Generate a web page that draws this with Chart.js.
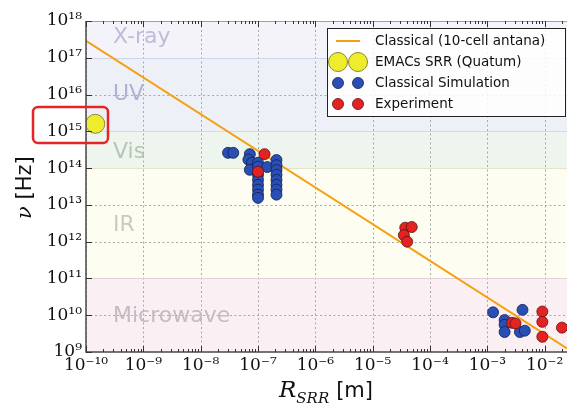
<!DOCTYPE html>
<html>
<head>
<meta charset="utf-8">
<script src="https://cdn.jsdelivr.net/npm/chart.js@4/dist/chart.umd.min.js"></script>
<style>
  html, body { margin: 0; padding: 0; background: #fff; }
</style>
</head>
<body>
<canvas id="chart" width="567" height="405"></canvas>
<script>
// tick decades and their labels
var xTickValues = [1e-10, 1e-9, 1e-8, 1e-7, 1e-6, 1e-5, 1e-4, 1e-3, 1e-2];
var xTickLabels = ['10⁻¹⁰', '10⁻⁹', '10⁻⁸', '10⁻⁷', '10⁻⁶', '10⁻⁵', '10⁻⁴', '10⁻³', '10⁻²'];
var yTickValues = [1e9, 1e10, 1e11, 1e12, 1e13, 1e14, 1e15, 1e16, 1e17, 1e18];
var yTickLabels = ['10⁹', '10¹⁰', '10¹¹', '10¹²', '10¹³', '10¹⁴', '10¹⁵', '10¹⁶', '10¹⁷', '10¹⁸'];

// spectral bands (Hz)
var bandNames = ['X-ray', 'UV', 'Vis', 'IR', 'Microwave'];
var bandLow   = [1e17, 1e15, 1e14, 1e11, 1e9];
var bandHigh  = [1e18, 1e17, 1e15, 1e14, 1e11];

// Classical (10-cell antenna)
var classR  = [1e-10, 2.45e-2];
var classNu = [2.9e17, 1.25e9];

// EMACs SRR (Quantum)
var quantR  = [1.45e-10];
var quantNu = [1.6e15];

// Classical simulation
var simR  = [3.0e-8, 3.7e-8, 7.2e-8, 6.8e-8, 7.9e-8, 7.2e-8,
             1.0e-7, 1.0e-7, 1.0e-7, 1.0e-7, 1.0e-7, 1.0e-7, 1.0e-7, 1.0e-7,
             1.45e-7,
             2.1e-7, 2.1e-7, 2.1e-7, 2.1e-7, 2.1e-7, 2.1e-7, 2.1e-7, 2.1e-7,
             1.26e-3, 4.1e-3, 2.0e-3, 2.0e-3, 2.0e-3, 3.7e-3, 4.5e-3];
var simNu = [2.6e14, 2.6e14, 2.4e14, 1.7e14, 1.4e14, 9e13,
             1.4e14, 1.1e14, 6.6e13, 4.8e13, 3.5e13, 2.6e13, 1.9e13, 1.55e13,
             1.07e14,
             1.66e14, 1.2e14, 8.9e13, 6.6e13, 4.8e13, 3.5e13, 2.6e13, 1.9e13,
             1.2e10, 1.4e10, 7.4e9, 5.5e9, 3.5e9, 3.5e9, 3.8e9];

// Experiment
var expR  = [1.3e-7, 1.0e-7, 3.7e-5, 4.8e-5, 3.5e-5, 4.0e-5,
             2.7e-3, 3.1e-3, 9.1e-3, 9.1e-3, 9.1e-3, 2.0e-2];
var expNu = [2.4e14, 8e13, 2.4e12, 2.5e12, 1.5e12, 1.0e12,
             6.2e9, 6.0e9, 1.26e10, 6.6e9, 2.6e9, 4.6e9];

function pts(xs, ys) {
  return xs.map(function(x, i) { return {x: x, y: ys[i]}; });
}

var bandFill  = ['#f5f3fa', '#eef0f8', '#eef5ee', '#fefdf1', '#faf0f4'];
var bandEdge  = ['#d8d8ec', '#ccd3ea', '#cfe0cf', '#e4e4cc', '#e4d0da'];
var bandText  = ['#bebcd6', '#acb4d4', '#b4c6b4', '#c8ccbe', '#c8bac2'];
var bandTextY = [37, 94, 152, 225, 316];

var bandsPlugin = {
  id: 'bands',
  beforeDraw: function(chart) {
    var ctx = chart.ctx, a = chart.chartArea, ys = chart.scales.y, xs = chart.scales.x;
    ctx.save();
    ctx.beginPath();
    ctx.rect(a.left, a.top, a.right - a.left, a.bottom - a.top);
    ctx.clip();
    for (var i = 0; i < bandNames.length; i++) {
      var top = ys.getPixelForValue(bandHigh[i]);
      var bot = ys.getPixelForValue(bandLow[i]);
      ctx.fillStyle = bandFill[i];
      ctx.fillRect(a.left, top, a.right - a.left, bot - top);
    }
    // dotted grid at the decades
    ctx.strokeStyle = '#a9a9a9';
    ctx.lineWidth = 1;
    ctx.setLineDash([2, 2.5]);
    ctx.beginPath();
    xTickValues.forEach(function(v) {
      var px = Math.round(xs.getPixelForValue(v)) + 0.5;
      ctx.moveTo(px, a.top); ctx.lineTo(px, a.bottom);
    });
    yTickValues.forEach(function(v) {
      var py = Math.round(ys.getPixelForValue(v)) + 0.5;
      ctx.moveTo(a.left, py); ctx.lineTo(a.right, py);
    });
    ctx.stroke();
    ctx.setLineDash([]);
    // band edges
    for (var k = 0; k < bandNames.length; k++) {
      var t = Math.round(ys.getPixelForValue(bandHigh[k])) + 0.5;
      ctx.strokeStyle = bandEdge[k];
      ctx.beginPath();
      ctx.moveTo(a.left, t); ctx.lineTo(a.right, t);
      ctx.stroke();
    }
    ctx.font = '22px "DejaVu Sans"';
    ctx.textBaseline = 'middle';
    for (var j = 0; j < bandNames.length; j++) {
      ctx.fillStyle = bandText[j];
      ctx.fillText(bandNames[j], 113, bandTextY[j]);
    }
    ctx.restore();
  },
  afterDraw: function(chart) {
    var ctx = chart.ctx, a = chart.chartArea, xs = chart.scales.x, ys = chart.scales.y;
    ctx.save();
    // frame
    ctx.lineWidth = 1;
    ctx.strokeStyle = '#a0a0a0';
    ctx.beginPath(); ctx.moveTo(a.left, a.top + 0.5); ctx.lineTo(a.right, a.top + 0.5); ctx.stroke();
    ctx.lineWidth = 1.5;
    ctx.strokeStyle = '#4a4a4a';
    ctx.beginPath();
    ctx.moveTo(a.left, a.top); ctx.lineTo(a.left, a.bottom); ctx.lineTo(a.right, a.bottom);
    ctx.stroke();
    // tick marks inside the axes
    ctx.lineWidth = 1;
    ctx.strokeStyle = '#333';
    ctx.beginPath();
    xTickValues.forEach(function(v) {
      var px = Math.round(xs.getPixelForValue(v)) + 0.5;
      ctx.moveTo(px, a.bottom); ctx.lineTo(px, a.bottom - 6);
      ctx.moveTo(px, a.top); ctx.lineTo(px, a.top + 6);
      for (var m = 2; m < 10; m++) {
        var mv = v * m;
        if (mv > xs.max) break;
        var mp = Math.round(xs.getPixelForValue(mv)) + 0.5;
        ctx.moveTo(mp, a.bottom); ctx.lineTo(mp, a.bottom - 3);
        ctx.moveTo(mp, a.top); ctx.lineTo(mp, a.top + 3);
      }
    });
    yTickValues.forEach(function(v) {
      var py = Math.round(ys.getPixelForValue(v)) + 0.5;
      ctx.moveTo(a.left, py); ctx.lineTo(a.left + 6, py);
    });
    ctx.stroke();

    // red highlight box
    ctx.strokeStyle = '#e52525';
    ctx.lineWidth = 2.5;
    ctx.beginPath();
    ctx.roundRect(33, 107, 75, 36, 5);
    ctx.stroke();

    // axis titles
    ctx.fillStyle = '#111';
    ctx.textBaseline = 'alphabetic';
    ctx.textAlign = 'left';
    var x = 279;
    ctx.font = 'italic 23px "DejaVu Serif"';
    ctx.fillText('R', x, 397);
    x += ctx.measureText('R').width;
    ctx.font = 'italic 15px "DejaVu Serif"';
    ctx.fillText('SRR', x, 403);
    x += ctx.measureText('SRR').width + 7;
    ctx.font = '21px "DejaVu Sans"';
    ctx.fillText('[m]', x, 397);

    ctx.save();
    ctx.translate(31, 219);
    ctx.rotate(-Math.PI / 2);
    ctx.font = 'italic 21px "DejaVu Serif"';
    ctx.fillText('ν', 0, 0);
    var w1 = ctx.measureText('ν').width;
    ctx.font = '21px "DejaVu Sans"';
    ctx.fillText(' [Hz]', w1, 0);
    ctx.restore();

    // legend
    var lx = 327, ly = 28, lw = 239, lh = 89;
    ctx.fillStyle = 'rgba(255,255,255,0.85)';
    ctx.fillRect(lx, ly, lw, lh);
    ctx.strokeStyle = '#222';
    ctx.lineWidth = 1;
    ctx.strokeRect(lx + 0.5, ly + 0.5, lw - 1, lh - 1);
    var ds = chart.data.datasets;
    var rows = [
      {d: ds[3], y: 41, line: true},
      {d: ds[2], y: 62},
      {d: ds[1], y: 83},
      {d: ds[0], y: 104}
    ];
    rows.forEach(function(r) {
      if (r.line) {
        ctx.strokeStyle = r.d.borderColor;
        ctx.lineWidth = 2;
        ctx.beginPath(); ctx.moveTo(336, r.y); ctx.lineTo(360, r.y); ctx.stroke();
      } else {
        [338, 358].forEach(function(cx) {
          ctx.beginPath();
          ctx.arc(cx, r.y, r.d.pointRadius, 0, Math.PI * 2);
          ctx.fillStyle = r.d.backgroundColor;
          ctx.fill();
          ctx.lineWidth = r.d.borderWidth;
          ctx.strokeStyle = r.d.borderColor;
          ctx.stroke();
        });
      }
      ctx.fillStyle = '#111';
      ctx.font = '13.5px "DejaVu Sans"';
      ctx.textBaseline = 'middle';
      ctx.fillText(r.d.label, 375, r.y);
    });
    ctx.restore();
  }
};

new Chart(document.getElementById('chart'), {
  type: 'scatter',
  data: {
    datasets: [
      {
        label: 'Experiment',
        data: pts(expR, expNu),
        backgroundColor: '#e52222',
        borderColor: '#5a1010',
        borderWidth: 0.8,
        pointRadius: 5.5
      },
      {
        label: 'Classical Simulation',
        data: pts(simR, simNu),
        backgroundColor: '#2a4fb4',
        borderColor: '#10204a',
        borderWidth: 0.8,
        pointRadius: 5.5
      },
      {
        label: 'EMACs SRR (Quatum)',
        data: pts(quantR, quantNu),
        backgroundColor: '#eeec2c',
        borderColor: '#8a8a30',
        borderWidth: 1,
        pointRadius: 9.5
      },
      {
        type: 'line',
        label: 'Classical (10-cell antana)',
        data: pts(classR, classNu),
        borderColor: '#f5a010',
        borderWidth: 2,
        pointRadius: 0,
        fill: false
      }
    ]
  },
  options: {
    responsive: false,
    devicePixelRatio: 1,
    animation: false,
    layout: { autoPadding: false, padding: { left: 0, right: 0, top: 21, bottom: 0 } },
    plugins: {
      legend: { display: false },
      tooltip: { enabled: false }
    },
    scales: {
      x: {
        type: 'logarithmic',
        min: 1e-10,
        max: 2.45e-2,
        afterBuildTicks: function(scale) {
          scale.ticks = xTickValues.map(function(v) { return {value: v}; });
        },
        afterFit: function(scale) {
          scale.height = 53;
          scale.paddingLeft = 0;
          scale.paddingRight = 0;
        },
        ticks: {
          autoSkip: false,
          maxRotation: 0,
          padding: 3,
          color: '#111',
          font: { family: 'DejaVu Serif', size: 17 },
          callback: function(value, i) { return xTickLabels[i]; }
        },
        grid: { display: false, drawTicks: false },
        border: { display: false }
      },
      y: {
        type: 'logarithmic',
        min: 1e9,
        max: 1e18,
        afterBuildTicks: function(scale) {
          scale.ticks = yTickValues.map(function(v) { return {value: v}; });
        },
        afterFit: function(scale) {
          scale.width = 86;
          scale.paddingTop = 0;
          scale.paddingBottom = 0;
        },
        ticks: {
          autoSkip: false,
          padding: 4,
          color: '#111',
          font: { family: 'DejaVu Serif', size: 17 },
          callback: function(value, i) { return yTickLabels[i]; }
        },
        grid: { display: false, drawTicks: false },
        border: { display: false }
      }
    }
  },
  plugins: [bandsPlugin]
});
</script>
</body>
</html>
